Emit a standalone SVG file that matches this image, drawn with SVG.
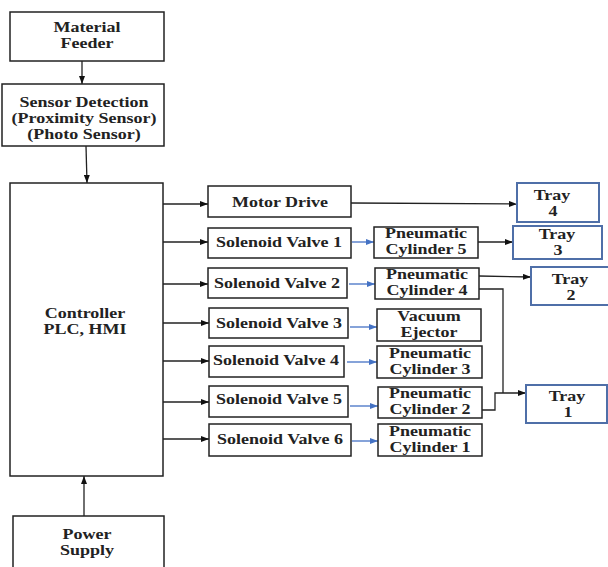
<svg xmlns="http://www.w3.org/2000/svg" width="608" height="567" viewBox="0 0 608 567">
<defs>
<marker id="ak" markerWidth="8" markerHeight="6" refX="8" refY="3" orient="auto" markerUnits="userSpaceOnUse"><path d="M0,0 L8,3 L0,6 Z" fill="#111"/></marker>
<marker id="ab" markerWidth="8" markerHeight="6" refX="8" refY="3" orient="auto" markerUnits="userSpaceOnUse"><path d="M0,0 L8,3 L0,6 Z" fill="#4472c4"/></marker>
</defs>
<style>
rect.b{fill:#fff;stroke:#222;stroke-width:1.5}
rect.t{fill:#fff;stroke:#4f6fa8;stroke-width:2}
text{font-family:"Liberation Serif","Times New Roman",serif;font-weight:bold;font-size:18px;fill:#222;text-anchor:middle}
.k{fill:none;stroke:#222;stroke-width:1.3}
.bl{fill:none;stroke:#4472c4;stroke-width:1.3}
</style>
<rect width="608" height="567" fill="#fff"/>
<g id="connectors">
<line class="k" x1="82" y1="61" x2="82" y2="84" marker-end="url(#ak)"/>
<line class="k" x1="86" y1="146" x2="87" y2="183" marker-end="url(#ak)"/>
<line class="k" x1="84" y1="516" x2="84" y2="476" marker-end="url(#ak)"/>
<line class="k" x1="163" y1="204" x2="208" y2="204" marker-end="url(#ak)"/>
<line class="k" x1="163" y1="242" x2="208" y2="242" marker-end="url(#ak)"/>
<line class="k" x1="163" y1="284" x2="208" y2="284" marker-end="url(#ak)"/>
<line class="k" x1="163" y1="323" x2="209" y2="323" marker-end="url(#ak)"/>
<line class="k" x1="163" y1="361" x2="209" y2="361" marker-end="url(#ak)"/>
<line class="k" x1="163" y1="402" x2="209" y2="402" marker-end="url(#ak)"/>
<line class="k" x1="163" y1="439" x2="209" y2="439" marker-end="url(#ak)"/>
<line class="bl" x1="352" y1="242" x2="374" y2="242" marker-end="url(#ab)"/>
<line class="bl" x1="349" y1="284" x2="375" y2="284" marker-end="url(#ab)"/>
<line class="bl" x1="350" y1="327" x2="377" y2="327" marker-end="url(#ab)"/>
<line class="bl" x1="347" y1="362" x2="377" y2="362" marker-end="url(#ab)"/>
<line class="bl" x1="350" y1="406" x2="378" y2="406" marker-end="url(#ab)"/>
<line class="bl" x1="352" y1="441" x2="378" y2="441" marker-end="url(#ab)"/>
<line class="k" x1="351" y1="203" x2="517" y2="204" marker-end="url(#ak)"/>
<line class="k" x1="478" y1="242" x2="513" y2="242" marker-end="url(#ak)"/>
<line class="k" x1="479" y1="276" x2="531" y2="277" marker-end="url(#ak)"/>
<path class="k" d="M479,289 H503 V393"/>
<path class="k" d="M482,410 H495 V393 H526" marker-end="url(#ak)"/>
</g>
<g id="material-feeder"><rect class="b" x="10" y="12" width="154" height="49"/><text transform="translate(87,32) scale(1,0.82)">Material</text><text transform="translate(87,48) scale(1,0.82)">Feeder</text></g>
<g id="sensor-detection"><rect class="b" x="2" y="84" width="162" height="62"/><text transform="translate(84,107) scale(1,0.82)">Sensor Detection</text><text transform="translate(84,123) scale(1,0.82)">(Proximity Sensor)</text><text transform="translate(84,139) scale(1,0.82)">(Photo Sensor)</text></g>
<g id="controller"><rect class="b" x="10" y="183" width="153" height="293"/><text transform="translate(85,318) scale(1,0.82)">Controller</text><text transform="translate(85,334) scale(1,0.82)">PLC, HMI</text></g>
<g id="power-supply"><rect class="b" x="13" y="516" width="151" height="60"/><text transform="translate(87,539) scale(1,0.82)">Power</text><text transform="translate(87,555) scale(1,0.82)">Supply</text></g>
<g id="motor-drive"><rect class="b" x="208" y="186" width="143" height="31"/><text transform="translate(280,207) scale(1,0.82)">Motor Drive</text></g>
<g id="solenoid-valve-1"><rect class="b" x="208" y="228" width="143" height="30"/><text transform="translate(279,247) scale(1,0.82)">Solenoid Valve 1</text></g>
<g id="solenoid-valve-2"><rect class="b" x="208" y="268" width="139" height="30"/><text transform="translate(277,288) scale(1,0.82)">Solenoid Valve 2</text></g>
<g id="solenoid-valve-3"><rect class="b" x="209" y="308" width="139" height="30"/><text transform="translate(279,328) scale(1,0.82)">Solenoid Valve 3</text></g>
<g id="solenoid-valve-4"><rect class="b" x="209" y="346" width="135" height="31"/><text transform="translate(276,365) scale(1,0.82)">Solenoid Valve 4</text></g>
<g id="solenoid-valve-5"><rect class="b" x="209" y="386" width="139" height="31"/><text transform="translate(279,404) scale(1,0.82)">Solenoid Valve 5</text></g>
<g id="solenoid-valve-6"><rect class="b" x="209" y="424" width="142" height="32"/><text transform="translate(280,444) scale(1,0.82)">Solenoid Valve 6</text></g>
<g id="pneumatic-cylinder-5"><rect class="b" x="374" y="227" width="104" height="31"/><text transform="translate(426,238) scale(1,0.82)">Pneumatic</text><text transform="translate(426,254) scale(1,0.82)">Cylinder 5</text></g>
<g id="pneumatic-cylinder-4"><rect class="b" x="375" y="268" width="104" height="31"/><text transform="translate(427,279) scale(1,0.82)">Pneumatic</text><text transform="translate(427,295) scale(1,0.82)">Cylinder 4</text></g>
<g id="vacuum-ejector"><rect class="b" x="377" y="309" width="104" height="32"/><text transform="translate(429,321) scale(1,0.82)">Vacuum</text><text transform="translate(429,337) scale(1,0.82)">Ejector</text></g>
<g id="pneumatic-cylinder-3"><rect class="b" x="377" y="346" width="105" height="32"/><text transform="translate(430,358) scale(1,0.82)">Pneumatic</text><text transform="translate(430,374) scale(1,0.82)">Cylinder 3</text></g>
<g id="pneumatic-cylinder-2"><rect class="b" x="378" y="387" width="104" height="31"/><text transform="translate(430,398) scale(1,0.82)">Pneumatic</text><text transform="translate(430,414) scale(1,0.82)">Cylinder 2</text></g>
<g id="pneumatic-cylinder-1"><rect class="b" x="378" y="424" width="104" height="32"/><text transform="translate(430,436) scale(1,0.82)">Pneumatic</text><text transform="translate(430,452) scale(1,0.82)">Cylinder 1</text></g>
<g id="tray-4"><rect class="t" x="517" y="183" width="82" height="39"/><text transform="translate(552,200) scale(1,0.82)">Tray</text><text transform="translate(553,216) scale(1,0.82)">4</text></g>
<g id="tray-3"><rect class="t" x="513" y="226" width="89" height="33"/><text transform="translate(557,239) scale(1,0.82)">Tray</text><text transform="translate(558,255) scale(1,0.82)">3</text></g>
<g id="tray-2"><rect class="t" x="531" y="267" width="78" height="38"/><text transform="translate(570,284) scale(1,0.82)">Tray</text><text transform="translate(571,300) scale(1,0.82)">2</text></g>
<g id="tray-1"><rect class="t" x="526" y="385" width="81" height="38"/><text transform="translate(567,401) scale(1,0.82)">Tray</text><text transform="translate(568,417) scale(1,0.82)">1</text></g>
</svg>
